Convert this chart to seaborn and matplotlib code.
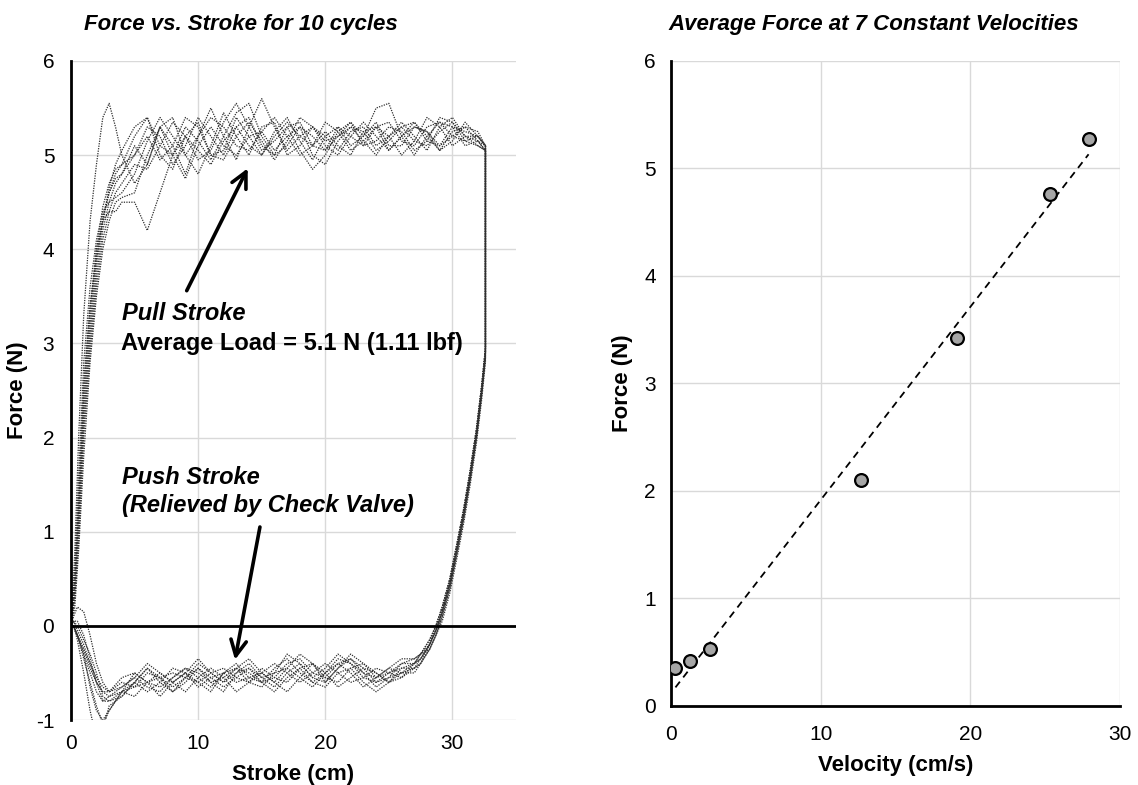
import matplotlib as mpl
mpl.use('Agg')
import matplotlib.pyplot as plt
import seaborn as sns
import pandas as pd

sns.set_style('white')
plt.rcParams['font.family'] = ['Liberation Sans', 'DejaVu Sans']
plt.rcParams['text.color'] = 'black'
plt.rcParams['axes.labelcolor'] = 'black'
plt.rcParams['axes.unicode_minus'] = False

pull_stroke = [0.0, 0.3, 0.6, 1.0, 1.5, 2.0, 2.5, 3.0, 3.5, 4.0,
               5, 6, 7, 8, 9, 10, 11, 12, 13, 14, 15, 16, 17, 18, 19, 20,
               21, 22, 23, 24, 25, 26, 27, 28, 29, 30, 31, 32, 32.6]
push_stroke = [32.6, 32.3, 31.9, 31.4, 30.9, 30.4, 29.8, 29.2, 28.7, 28.2, 27.5, 27,
               26, 25, 24, 23, 22, 21, 20, 19, 18, 17, 16, 15, 14, 13, 12, 11,
               10, 9, 8, 7, 6, 5, 4, 3, 2.5, 2, 1.5, 1.0, 0.5, 0.2, 0.0]

# force (N) on the pull stroke, one list per cycle
pull_1 = [0.0, 0.5, 1.4, 2.6, 3.4, 3.9, 4.3, 4.6, 4.8, 4.9,
          5.0, 5.3, 5.2, 4.9, 5.1, 5.4, 5.2, 5.0, 5.3, 5.4, 5.1, 5.0, 5.3, 5.35, 5.1, 5.05,
          5.3, 5.2, 5.1, 5.3, 5.35, 5.15, 5.1, 5.3, 5.35, 5.2, 5.15, 5.2, 5.1]
pull_2 = [0.0, 0.3, 1.0, 2.1, 3.0, 3.7, 4.2, 4.5, 4.7, 4.8,
          5.1, 4.9, 5.3, 5.4, 5.0, 4.8, 5.1, 5.45, 5.2, 5.0, 5.3, 5.35, 5.0, 5.1, 5.3, 5.2,
          5.05, 5.25, 5.3, 5.1, 5.2, 5.35, 5.2, 5.05, 5.3, 5.4, 5.2, 5.15, 5.05]
pull_3 = [0.0, 0.8, 2.0, 3.3, 4.3, 4.9, 5.4, 5.55, 5.3, 5.0,
          4.7, 4.9, 5.3, 5.1, 4.8, 5.2, 5.5, 5.2, 4.95, 5.3, 5.6, 5.3, 5.05, 5.2, 5.3, 5.15,
          5.2, 5.35, 5.2, 5.5, 5.55, 5.2, 5.0, 5.2, 5.35, 5.3, 5.1, 5.15, 5.05]
pull_4 = [0.0, 0.4, 1.2, 2.4, 3.3, 4.0, 4.45, 4.7, 4.85, 4.9,
          5.2, 5.4, 5.0, 4.85, 5.2, 5.35, 5.0, 5.05, 5.4, 5.2, 5.0, 5.25, 5.4, 5.15, 4.95, 5.2,
          5.3, 5.1, 5.2, 5.35, 5.1, 5.1, 5.3, 5.25, 5.05, 5.25, 5.3, 5.15, 5.1]
pull_5 = [0.0, 0.2, 0.8, 1.8, 2.8, 3.5, 4.0, 4.3, 4.5, 4.55,
          4.6, 5.0, 5.3, 5.0, 4.75, 5.1, 5.3, 5.1, 5.0, 5.2, 5.25, 5.05, 5.2, 5.3, 5.0, 4.9,
          5.15, 5.3, 5.15, 5.0, 5.2, 5.3, 5.15, 5.1, 5.25, 5.35, 5.2, 5.1, 5.05]
pull_6 = [0.0, 0.6, 1.6, 2.8, 3.6, 4.1, 4.4, 4.5, 4.55, 4.6,
          4.8, 5.15, 5.4, 5.2, 5.0, 5.2, 5.4, 5.3, 5.1, 5.05, 5.25, 5.4, 5.2, 5.0, 5.1, 5.35,
          5.25, 5.05, 5.15, 5.3, 5.2, 5.0, 5.15, 5.4, 5.3, 5.1, 5.2, 5.2, 5.1]
pull_7 = [0.0, 0.4, 1.1, 2.2, 3.1, 3.8, 4.3, 4.65, 4.9, 5.05,
          5.3, 5.4, 5.1, 5.0, 5.3, 5.15, 4.95, 5.2, 5.45, 5.55, 5.2, 5.0, 5.1, 5.3, 5.2, 5.05,
          5.2, 5.3, 5.25, 5.05, 5.15, 5.3, 5.35, 5.15, 5.1, 5.3, 5.25, 5.2, 5.1]
pull_8 = [0.0, 0.5, 1.3, 2.5, 3.4, 4.0, 4.3, 4.4, 4.4, 4.5,
          4.5, 4.2, 4.6, 5.0, 5.2, 5.05, 4.9, 5.15, 5.3, 5.1, 5.0, 5.2, 5.35, 5.2, 5.1, 5.25,
          5.1, 5.0, 5.25, 5.3, 5.05, 5.2, 5.35, 5.2, 5.05, 5.15, 5.35, 5.2, 5.1]
pull_9 = [0.0, 0.3, 0.9, 2.0, 2.9, 3.6, 4.1, 4.4, 4.6, 4.7,
          4.9, 4.85, 5.1, 5.35, 5.2, 4.95, 5.05, 5.35, 5.55, 5.3, 5.05, 5.15, 5.3, 5.05, 4.85, 5.0,
          5.25, 5.35, 5.1, 5.15, 5.3, 5.25, 5.05, 5.15, 5.4, 5.35, 5.15, 5.1, 5.05]
pull_10 = [0.0, 0.4, 1.2, 2.3, 3.2, 3.9, 4.35, 4.6, 4.75, 4.8,
           5.0, 5.2, 4.95, 5.1, 5.4, 5.3, 5.0, 4.95, 5.2, 5.35, 5.15, 4.95, 5.15, 5.4, 5.3, 5.1,
           5.0, 5.2, 5.35, 5.2, 5.05, 5.2, 5.3, 5.25, 5.1, 5.2, 5.3, 5.25, 5.1]

# force (N) on the push stroke, one list per cycle
push_1 = [2.9, 2.5, 2.05, 1.6, 1.2, 0.85, 0.45, 0.15, -0.05, -0.2, -0.35, -0.4,
          -0.5, -0.55, -0.6, -0.45, -0.35, -0.4, -0.55, -0.5, -0.35, -0.4, -0.55, -0.6,
          -0.5, -0.45, -0.55, -0.6, -0.5, -0.45, -0.55, -0.65, -0.6, -0.5, -0.55, -0.7,
          -0.65, -0.55, -0.4, -0.25, -0.1, 0.0, 0.0]
push_2 = [2.85, 2.45, 2.0, 1.55, 1.15, 0.8, 0.4, 0.1, -0.1, -0.25, -0.4, -0.45,
          -0.45, -0.6, -0.7, -0.6, -0.45, -0.5, -0.65, -0.6, -0.45, -0.55, -0.7, -0.6,
          -0.45, -0.55, -0.65, -0.55, -0.45, -0.6, -0.7, -0.55, -0.5, -0.65, -0.7, -0.75,
          -0.8, -0.7, -0.5, -0.3, -0.1, 0.0, 0.0]
push_3 = [2.95, 2.55, 2.1, 1.65, 1.25, 0.9, 0.5, 0.2, 0.0, -0.15, -0.3, -0.35,
          -0.4, -0.5, -0.55, -0.4, -0.3, -0.45, -0.6, -0.4, -0.3, -0.45, -0.6, -0.5,
          -0.35, -0.45, -0.6, -0.5, -0.4, -0.55, -0.7, -0.6, -0.45, -0.6, -0.75, -0.85,
          -1.1, -1.2, -0.9, -0.5, -0.15, 0.0, 0.0]
push_4 = [2.9, 2.5, 2.05, 1.6, 1.2, 0.85, 0.45, 0.15, -0.05, -0.2, -0.35, -0.45,
          -0.55, -0.6, -0.5, -0.4, -0.45, -0.6, -0.55, -0.4, -0.45, -0.6, -0.55, -0.45,
          -0.6, -0.7, -0.55, -0.45, -0.55, -0.7, -0.6, -0.5, -0.6, -0.75, -0.7, -0.8,
          -0.8, -0.6, -0.4, -0.2, -0.05, 0.05, 0.0]
push_5 = [2.8, 2.4, 1.95, 1.5, 1.1, 0.75, 0.35, 0.05, -0.1, -0.25, -0.3, -0.35,
          -0.35, -0.45, -0.55, -0.5, -0.4, -0.35, -0.5, -0.6, -0.5, -0.35, -0.45, -0.6,
          -0.55, -0.4, -0.5, -0.65, -0.55, -0.45, -0.55, -0.7, -0.65, -0.55, -0.65, -0.75,
          -0.7, -0.6, -0.35, -0.1, 0.05, 0.05, 0.0]
push_6 = [2.95, 2.55, 2.1, 1.65, 1.25, 0.9, 0.5, 0.2, 0.0, -0.2, -0.4, -0.5,
          -0.5, -0.45, -0.55, -0.65, -0.5, -0.4, -0.5, -0.65, -0.55, -0.45, -0.5, -0.65,
          -0.6, -0.45, -0.5, -0.7, -0.6, -0.5, -0.6, -0.75, -0.6, -0.5, -0.7, -0.9,
          -1.0, -0.9, -0.65, -0.3, -0.1, 0.0, 0.0]
push_7 = [2.9, 2.5, 2.05, 1.6, 1.2, 0.85, 0.45, 0.15, -0.05, -0.2, -0.3, -0.4,
          -0.45, -0.5, -0.6, -0.55, -0.4, -0.3, -0.45, -0.55, -0.4, -0.3, -0.5, -0.55,
          -0.45, -0.5, -0.6, -0.5, -0.35, -0.5, -0.6, -0.5, -0.4, -0.55, -0.65, -0.7,
          -0.6, -0.4, -0.1, 0.15, 0.2, 0.1, 0.0]
push_8 = [2.85, 2.45, 2.0, 1.55, 1.15, 0.8, 0.4, 0.1, -0.1, -0.25, -0.4, -0.45,
          -0.5, -0.6, -0.5, -0.45, -0.55, -0.65, -0.5, -0.4, -0.55, -0.7, -0.6, -0.5,
          -0.55, -0.6, -0.5, -0.55, -0.65, -0.5, -0.45, -0.6, -0.7, -0.6, -0.7, -0.9,
          -1.05, -0.85, -0.6, -0.35, -0.1, 0.0, 0.0]
push_9 = [2.9, 2.5, 2.05, 1.6, 1.2, 0.85, 0.45, 0.15, -0.05, -0.2, -0.35, -0.4,
          -0.4, -0.55, -0.65, -0.5, -0.35, -0.45, -0.6, -0.55, -0.4, -0.5, -0.65, -0.55,
          -0.4, -0.5, -0.7, -0.6, -0.45, -0.55, -0.65, -0.55, -0.45, -0.6, -0.75, -0.8,
          -0.75, -0.5, -0.3, -0.15, 0.0, 0.05, 0.0]
push_10 = [2.95, 2.55, 2.1, 1.65, 1.25, 0.9, 0.5, 0.2, 0.0, -0.15, -0.3, -0.4,
           -0.55, -0.5, -0.45, -0.55, -0.6, -0.5, -0.4, -0.5, -0.6, -0.5, -0.4, -0.5,
           -0.6, -0.55, -0.45, -0.5, -0.6, -0.55, -0.5, -0.55, -0.6, -0.65, -0.6, -0.7,
           -0.7, -0.6, -0.45, -0.25, -0.1, 0.0, 0.0]

pull_cycles = [pull_1, pull_2, pull_3, pull_4, pull_5, pull_6, pull_7, pull_8, pull_9, pull_10]
push_cycles = [push_1, push_2, push_3, push_4, push_5, push_6, push_7, push_8, push_9, push_10]

# average force at constant velocity
velocity = [0.3, 1.3, 2.6, 12.7, 19.1, 25.3, 27.9]
avg_force = [0.35, 0.42, 0.53, 2.1, 3.42, 4.76, 5.27]

rows = []
for i, (pu, ps) in enumerate(zip(pull_cycles, push_cycles)):
    for s, f in zip(pull_stroke + push_stroke, pu + ps):
        rows.append((i + 1, s, f))
cycles_df = pd.DataFrame(rows, columns=['cycle', 'stroke', 'force'])

grid_color = '#d9d9d9'


def style_axes(ax):
    for side in ['top', 'right', 'bottom']:
        ax.spines[side].set_visible(False)
    ax.spines['left'].set_linewidth(2)
    ax.spines['left'].set_color('black')
    ax.grid(True, color=grid_color, lw=1)
    ax.set_axisbelow(True)
    ax.tick_params(length=0, labelsize=15, colors='black')


fig = plt.figure(figsize=(11.38, 7.85), dpi=100)
ax1 = fig.add_axes([0.0624, 0.0828, 0.391, 0.8395])
ax2 = fig.add_axes([0.5896, 0.101, 0.3946, 0.8213])

# left: force vs stroke loops
sns.lineplot(data=cycles_df, x='stroke', y='force', units='cycle', estimator=None,
             sort=False, ax=ax1, color='#2e2e2e', lw=0.9, linestyle=(0, (1, 1)))
ax1.axhline(0, color='black', lw=2, zorder=3)
ax1.set_xlim(0, 35)
ax1.set_ylim(-1, 6)
ax1.set_xticks([0, 10, 20, 30])
ax1.set_yticks(range(-1, 7))
style_axes(ax1)
ax1.tick_params(axis='x', pad=10)
ax1.tick_params(axis='y', pad=12)
ax1.set_xlabel('Stroke (cm)', fontsize=16, fontweight='bold', labelpad=8)
ax1.set_ylabel('Force (N)', fontsize=16, fontweight='bold')
ax1.yaxis.set_label_coords(-0.097, 0.5)
ax1.set_title('Force vs. Stroke for 10 cycles', fontsize=16, fontweight='bold',
              fontstyle='italic', x=0.381, pad=22)

arrow = dict(arrowstyle='->', lw=2.6, color='black', mutation_scale=28,
             shrinkA=0, shrinkB=0)
ax1.annotate('', xy=(13.9, 4.86), xytext=(9.1, 3.56), arrowprops=arrow)
ax1.annotate('', xy=(12.9, -0.36), xytext=(14.86, 1.05), arrowprops=arrow)
ax1.text(4.0, 3.32, 'Pull Stroke', fontsize=17, fontweight='bold', fontstyle='italic',
         va='center', ha='left')
ax1.text(3.9, 3.0, 'Average Load = 5.1 N (1.11 lbf)', fontsize=17, fontweight='bold',
         va='center', ha='left')
ax1.text(4.0, 1.58, 'Push Stroke', fontsize=17, fontweight='bold', fontstyle='italic',
         va='center', ha='left')
ax1.text(4.0, 1.28, '(Relieved by Check Valve)', fontsize=17, fontweight='bold',
         fontstyle='italic', va='center', ha='left')

# right: average force vs velocity with linear fit
sns.regplot(x=velocity, y=avg_force, ci=None, scatter=False, ax=ax2,
            line_kws=dict(color='black', lw=1.3, linestyle=(0, (4, 3))))
sns.scatterplot(x=velocity, y=avg_force, ax=ax2, s=85, color='#a6a6a6',
                edgecolor='black', linewidth=1.6, zorder=4)
ax2.set_xlim(0, 30)
ax2.set_ylim(0, 6)
ax2.set_xticks([0, 10, 20, 30])
ax2.set_yticks(range(0, 7))
style_axes(ax2)
ax2.spines['bottom'].set_visible(True)
ax2.spines['bottom'].set_linewidth(2)
ax2.spines['bottom'].set_color('black')
ax2.tick_params(axis='x', pad=14)
ax2.tick_params(axis='y', pad=11)
ax2.set_xlabel('Velocity (cm/s)', fontsize=16, fontweight='bold', labelpad=8)
ax2.set_ylabel('Force (N)', fontsize=16, fontweight='bold')
ax2.yaxis.set_label_coords(-0.085, 0.5)
ax2.set_title('Average Force at 7 Constant Velocities', fontsize=16, fontweight='bold',
              fontstyle='italic', x=0.452, pad=22)

plt.savefig('out.png', dpi=100)
plt.close()
